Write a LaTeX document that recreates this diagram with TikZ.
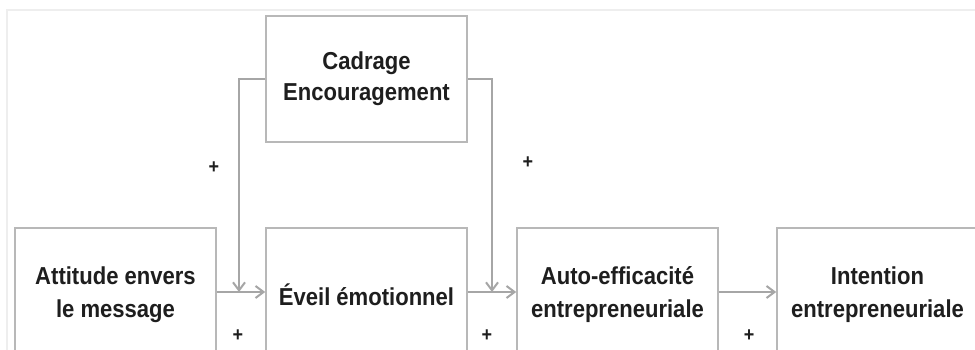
\documentclass[tikz,border=0pt]{standalone}
\usepackage{fontspec}
\setmainfont{Liberation Sans}[FakeStretch=0.9]
\usetikzlibrary{arrows.meta}
\definecolor{boxline}{HTML}{B8B8B8}
\definecolor{arrowline}{HTML}{A6A6A6}
\definecolor{txt}{HTML}{1E1E1E}
\definecolor{frame}{HTML}{EEEEEE}
\begin{document}
\begin{tikzpicture}[x=1pt,y=-1pt,
  box/.style={draw=boxline,line width=1.6pt,fill=white,minimum width=201pt,minimum height=126pt,
    align=center,inner sep=0pt,text=txt,font=\fontsize{24.5}{33}\selectfont\bfseries},
  conn/.style={draw=arrowline,line width=2.3pt,-{Straight Barb[length=8pt,width=12pt,line width=2pt]}},
  plus/.style={font=\fontsize{20}{20}\selectfont\bfseries,text=txt,inner sep=0pt}]
\useasboundingbox (0,0) rectangle (975,350);
\clip (0,0) rectangle (975,350);
\fill[white] (0,0) rectangle (975,350);
\draw[frame,line width=1.2pt] (7,360) -- (7,10) -- (980,10);
\node[box] (cad) at (366.5,79) {\raisebox{-3pt}{Cadrage}\\\raisebox{-1pt}{Encouragement}};
\node[box,minimum height=134pt] (att) at (115.5,295) {Attitude envers\\le message};
\node[box,minimum height=134pt] (eve) at (366.5,295) {Éveil émotionnel};
\node[box,minimum height=134pt] (auto) at (617.5,295) {Auto-efficacité\\entrepreneuriale};
\node[box,minimum height=134pt] (int) at (877.5,295) {Intention\\entrepreneuriale};
\coordinate (j1) at (239,292);
\coordinate (j2) at (492,292);
\draw[conn] (att.east |- 0,292) -- (eve.west |- 0,292);
\draw[conn] (eve.east |- 0,292) -- (auto.west |- 0,292);
\draw[conn] (auto.east |- 0,292) -- (int.west |- 0,292);
\draw[conn] (cad.west |- 0,79) -| (j1);
\draw[conn] (cad.east |- 0,79) -| (j2);
\node[plus] (p1) at (214,168) {+};
\node[plus] (p2) at (238,336) {+};
\node[plus] (p3) at (528,163) {+};
\node[plus] (p4) at (487,336) {+};
\node[plus] (p5) at (749,336) {+};
\end{tikzpicture}
\end{document}
